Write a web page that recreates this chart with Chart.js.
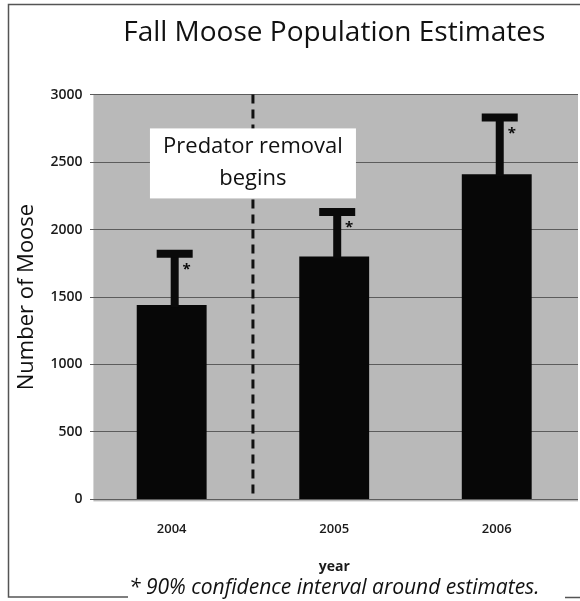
<!DOCTYPE html>
<html>
<head>
<meta charset="utf-8">
<script src="https://cdn.jsdelivr.net/npm/chart.js@4.4.1/dist/chart.umd.min.js"></script>
<style>
  html, body { margin: 0; padding: 0; background: #ffffff; }
  #wrap { width: 580px; height: 601px; }
</style>
</head>
<body>
<div id="wrap"><canvas id="mooseChart" width="580" height="601"></canvas></div>
<script>
// data
const years = ["2004", "2005", "2006"];
const estimates = [1440, 1800, 2410];
const upperCI = [1820, 2130, 2830];
const removalAt = 0.5;          // between 2004 and 2005
const noteLines = ["Predator removal", "begins"];
const noteValue = 2490;

const fuente = "'Open Sans', 'DejaVu Sans', sans-serif";

// gray plot background
const fondoPlugin = {
    id: "fondo",
    beforeDraw(chart){
        const {ctx, chartArea: a} = chart;
        ctx.save();
        ctx.fillStyle = "#b9b9b9";
        ctx.fillRect(a.left + 3, a.top, a.right - a.left - 3, a.bottom - a.top + 2);
        ctx.restore();
    }
};

// dashed line, note box, error bars and frame
const extrasPlugin = {
    id: "extras",
    afterDatasetsDraw(chart){
        const {ctx, scales: {x, y}, chartArea: a} = chart;
        const meta = chart.getDatasetMeta(0);

        ctx.save();

        // upper error bars
        ctx.strokeStyle = "#0a0a0a";
        ctx.fillStyle = "#0a0a0a";
        meta.data.forEach(function(bar, i){
            const cx = bar.x + 3;
            const yTop = y.getPixelForValue(upperCI[i]);
            const yBar = y.getPixelForValue(estimates[i]);
            ctx.lineWidth = 8;
            ctx.beginPath();
            ctx.moveTo(cx, yBar + 2);
            ctx.lineTo(cx, yTop);
            ctx.stroke();
            ctx.beginPath();
            ctx.moveTo(cx - 18, yTop);
            ctx.lineTo(cx + 18, yTop);
            ctx.stroke();
            ctx.font = "bold 15px " + fuente;
            ctx.textAlign = "center";
            ctx.textBaseline = "middle";
            ctx.fillText("*", cx + 12, yTop + 16);
        });

        // predator removal line
        const lx = x.getPixelForValue(removalAt);
        ctx.strokeStyle = "#111111";
        ctx.lineWidth = 3;
        ctx.setLineDash([9, 6]);
        ctx.beginPath();
        ctx.moveTo(lx, a.top);
        ctx.lineTo(lx, a.bottom);
        ctx.stroke();
        ctx.setLineDash([]);

        // note box
        const ny = y.getPixelForValue(noteValue);
        ctx.fillStyle = "#ffffff";
        ctx.fillRect(lx - 103, ny - 35, 206, 70);
        ctx.fillStyle = "#111111";
        ctx.font = "22px " + fuente;
        ctx.textAlign = "center";
        ctx.textBaseline = "middle";
        ctx.fillText(noteLines[0], lx, ny - 17);
        ctx.fillText(noteLines[1], lx, ny + 15);

        ctx.restore();
    },
    afterDraw(chart){
        const ctx = chart.ctx;
        ctx.save();
        ctx.strokeStyle = "#555555";
        ctx.lineWidth = 1.5;
        ctx.beginPath();
        ctx.moveTo(580, 4.5);
        ctx.lineTo(8.5, 4.5);
        ctx.lineTo(8.5, 597);
        ctx.lineTo(128, 597);
        ctx.moveTo(565, 597.5);
        ctx.lineTo(580, 597.5);
        ctx.stroke();
        ctx.restore();
    }
};

new Chart(document.getElementById("mooseChart"), {
    type: "bar",
    data: {
        labels: years,
        datasets: [{
            label: "Number of Moose",
            data: estimates,
            backgroundColor: "#070707",
            borderWidth: 0,
            categoryPercentage: 1,
            barPercentage: 0.43
        }]
    },
    options: {
        responsive: false,
        animation: false,
        layout: {
            padding: {top: 16, left: 10, right: 2, bottom: 0}
        },
        scales: {
            x: {
                grid: {display: false, drawTicks: false},
                border: {display: false},
                ticks: {
                    padding: 22,
                    color: "#1a1a1a",
                    font: {family: fuente, size: 13, weight: "600"}
                },
                title: {
                    display: true,
                    text: "year",
                    color: "#1a1a1a",
                    padding: {top: 0, bottom: 0},
                    font: {family: fuente, size: 14, weight: "bold"}
                }
            },
            y: {
                min: 0,
                max: 3000,
                ticks: {
                    stepSize: 500,
                    padding: 8,
                    color: "#1a1a1a",
                    font: {family: fuente, size: 14, weight: "600"},
                    callback: function(value){
                        return String(value);
                    }
                },
                grid: {color: "#5c5c5c", lineWidth: 1, drawTicks: false},
                border: {display: false},
                title: {
                    display: true,
                    text: "Number of Moose",
                    color: "#111111",
                    padding: {top: 4, bottom: 2},
                    font: {family: fuente, size: 22}
                }
            }
        },
        plugins: {
            legend: {display: false},
            tooltip: {enabled: false},
            title: {
                display: true,
                text: "Fall Moose Population Estimates",
                color: "#111111",
                fullSize: false,
                padding: {top: 0, bottom: 45},
                font: {family: fuente, size: 28, weight: "normal"}
            },
            subtitle: {
                display: true,
                position: "bottom",
                text: "* 90% confidence interval around estimates.",
                color: "#111111",
                fullSize: false,
                padding: {top: 0, bottom: 0},
                font: {family: fuente, size: 21, style: "italic"}
            }
        }
    },
    plugins: [fondoPlugin, extrasPlugin]
});
</script>
</body>
</html>
